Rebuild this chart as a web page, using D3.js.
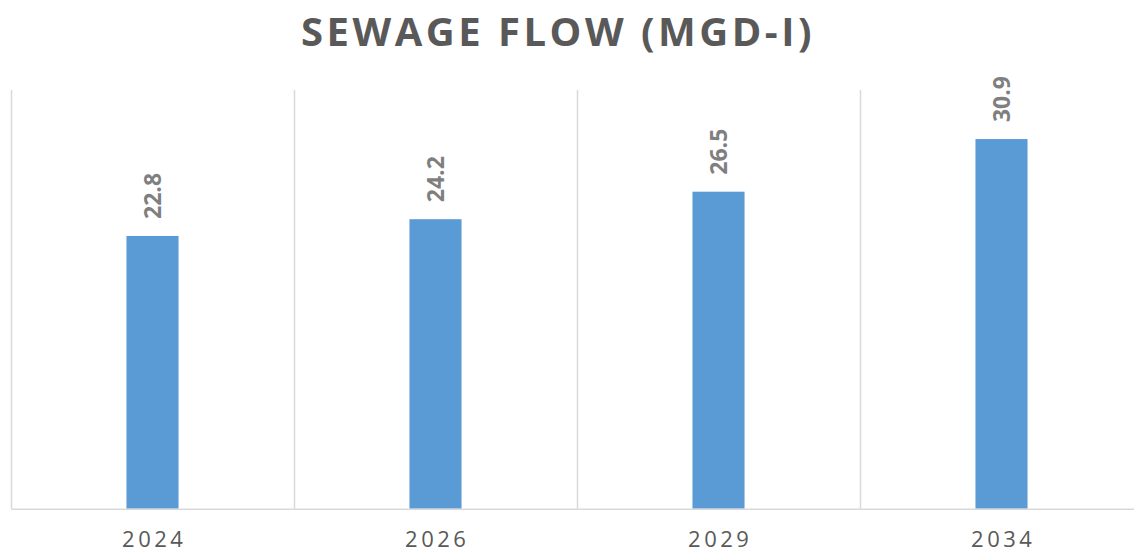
<!DOCTYPE html>
<html>
<head>
<meta charset="utf-8">
<script src="https://cdn.jsdelivr.net/npm/d3@7"></script>
<style>
  html, body { margin: 0; padding: 0; background: #fff; }
  svg { display: block; }
</style>
</head>
<body>
<svg id="chart" width="1134" height="553"></svg>
<script>
// Sewage flow projections, million gallons per day
const years = ["2024", "2026", "2029", "2034"];
const flows = [22.8, 24.2, 26.5, 30.9];
const yDomain = [0, 35];
const chartTitle = "SEWAGE FLOW (MGD-I)";

const svg = d3.select("#chart");
const margin = { left: 11, right: -9, top: 90, bottom: 44.3 };
const W = 1134, H = 553;

const x = d3.scaleBand()
  .domain(years)
  .range([margin.left, W - margin.right])
  .padding(0);

const y = d3.scaleLinear()
  .domain(yDomain)
  .range([H - margin.bottom, margin.top]);

const barW = x.bandwidth() * 0.184;
const grid = "#d9d9d9";

// vertical separators between categories
const seps = years.map(d => x(d));
svg.append("g")
  .selectAll("line")
  .data(seps)
  .join("line")
  .attr("x1", d => d + 0.5).attr("x2", d => d + 0.5)
  .attr("y1", y(yDomain[1])).attr("y2", y(0))
  .attr("stroke", grid).attr("stroke-width", 1.5);

// bars
svg.append("g")
  .selectAll("rect")
  .data(years)
  .join("rect")
  .attr("x", (d) => x(d) + x.bandwidth() / 2 - barW / 2)
  .attr("width", barW)
  .attr("y", (d, i) => y(flows[i]))
  .attr("height", (d, i) => y(0) - y(flows[i]))
  .attr("fill", "#5b9bd5");

// baseline
svg.append("line")
  .attr("x1", margin.left).attr("x2", W)
  .attr("y1", y(0) + 0.5).attr("y2", y(0) + 0.5)
  .attr("stroke", grid).attr("stroke-width", 1.5);

// value labels, rotated
svg.append("g")
  .selectAll("text")
  .data(years)
  .join("text")
  .attr("transform", (d, i) =>
    `translate(${x(d) + x.bandwidth() / 2},${y(flows[i]) - 17}) rotate(-90)`)
  .attr("dy", "0.36em")
  .attr("text-anchor", "start")
  .attr("font-family", "'Open Sans', sans-serif")
  .attr("font-weight", 700)
  .attr("font-size", 23)
  .attr("fill", "#7f7f7f")
  .text((d, i) => flows[i].toFixed(1));

// category axis labels
const xAxis = d3.axisBottom(x).tickSize(0).tickPadding(0);
const gx = svg.append("g")
  .attr("transform", `translate(0,${y(0)})`)
  .call(xAxis);
gx.select(".domain").remove();
gx.selectAll("text")
  .attr("y", 38)
  .attr("dy", 0)
  .attr("font-family", "'Open Sans', sans-serif")
  .attr("font-size", 22)
  .attr("letter-spacing", "3.5px")
  .attr("fill", "#595959")
  .attr("dx", "1.75px");

// title
svg.append("text")
  .attr("x", 558)
  .attr("y", 46)
  .attr("text-anchor", "middle")
  .attr("font-family", "'Open Sans', sans-serif")
  .attr("font-weight", 700)
  .attr("font-size", 40)
  .attr("letter-spacing", "3.5px")
  .attr("fill", "#595959")
  .text(chartTitle);
</script>
</body>
</html>
